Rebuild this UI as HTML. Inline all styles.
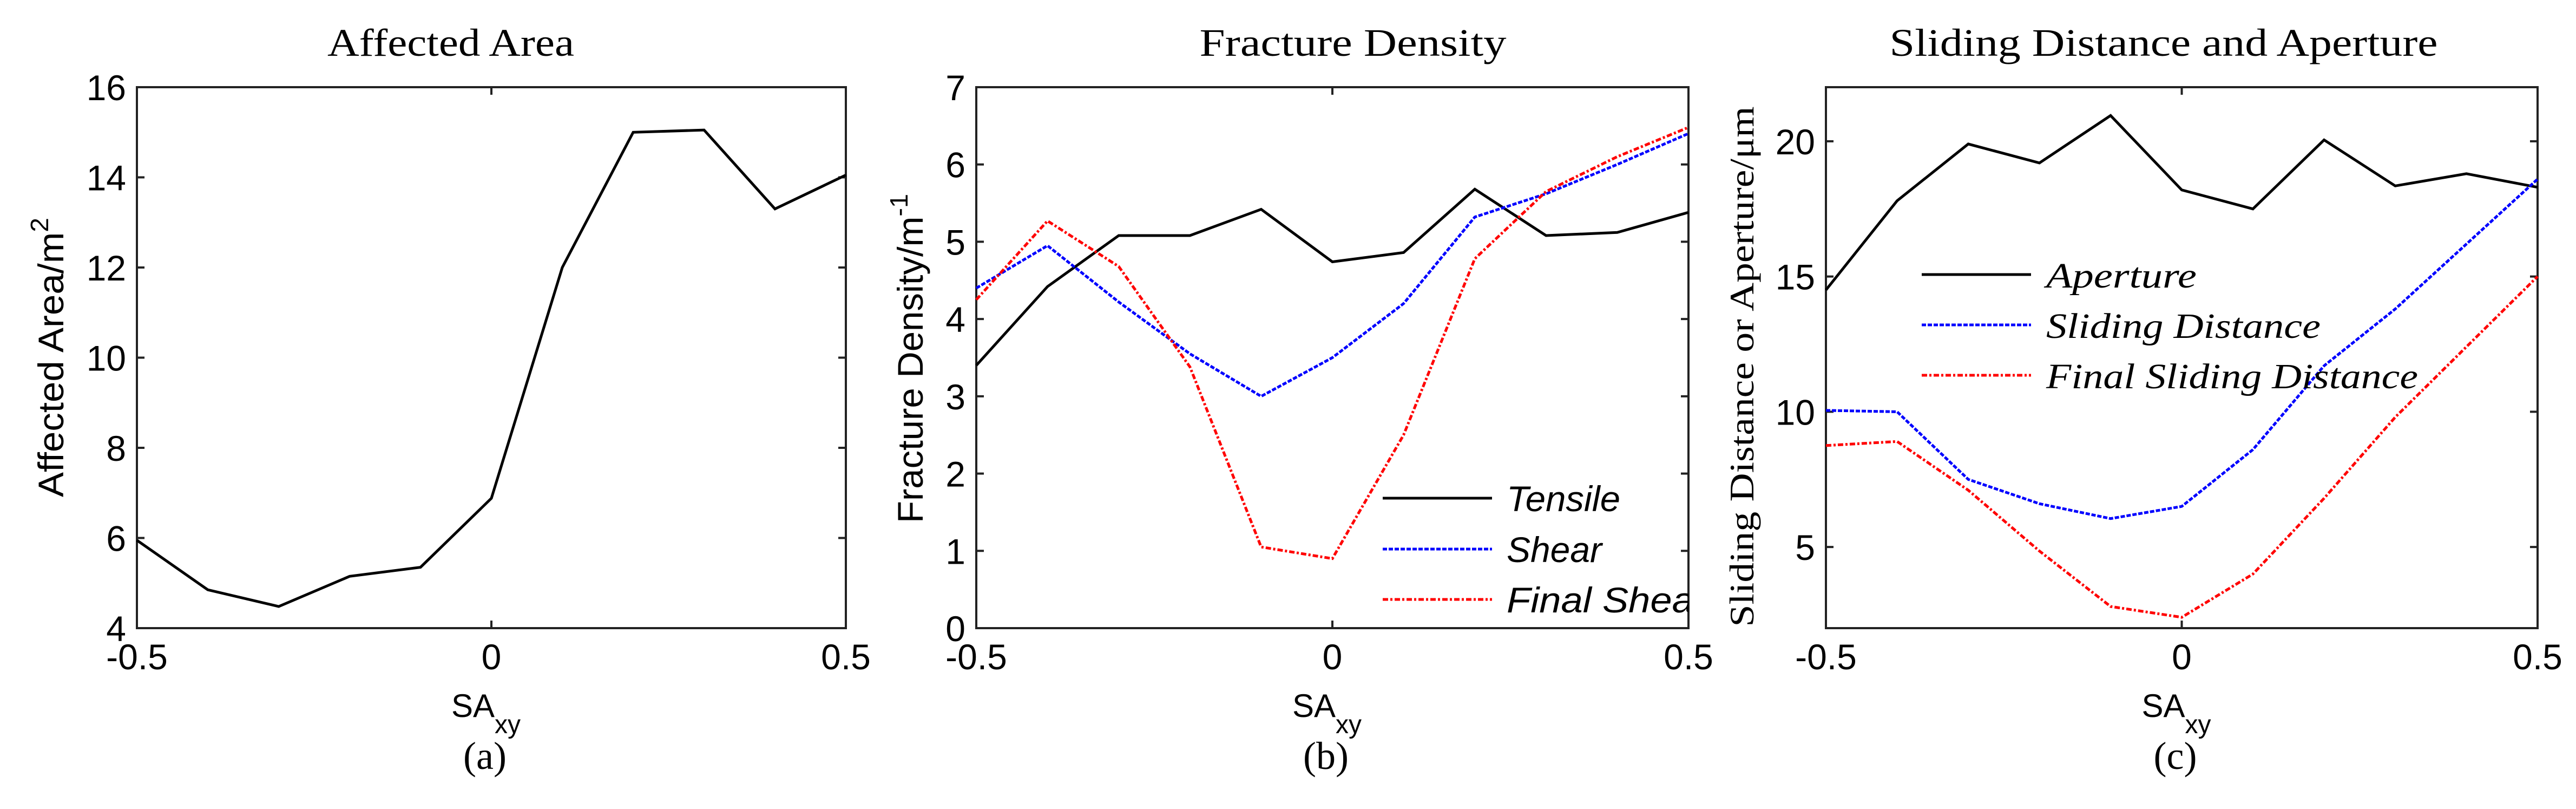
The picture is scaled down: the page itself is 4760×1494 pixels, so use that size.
<!DOCTYPE html>
<html><head><meta charset="utf-8"><style>
html,body{margin:0;padding:0;background:#fff;}
svg{display:block;}
</style></head><body>
<svg id="fig" xmlns="http://www.w3.org/2000/svg" width="4760" height="1494" viewBox="0 0 4760 1494">
<defs>
<clipPath id="clipb"><rect x="1804" y="150" width="1316" height="1020"/></clipPath>
</defs>
</svg>
<script>
const xs = [-0.5,-0.4,-0.3,-0.2,-0.1,0,0.1,0.2,0.3,0.4,0.5];
const areaVals = [5.95,4.85,4.48,5.15,5.35,6.88,12.0,15.0,15.05,13.3,14.05];
const tensileVals = [3.4,4.42,5.08,5.08,5.42,4.74,4.86,5.68,5.08,5.12,5.38];
const shearVals = [4.4,4.95,4.22,3.55,3.0,3.5,4.2,5.32,5.62,6.0,6.4];
const finalShearVals = [4.25,5.27,4.68,3.38,1.05,0.9,2.5,4.78,5.65,6.1,6.48];
const apertureVals = [14.5,17.8,19.9,19.2,20.95,18.2,17.5,20.05,18.35,18.8,18.3];
const slidingVals = [10.05,10.0,7.5,6.6,6.05,6.5,8.6,11.7,13.8,16.2,18.6];
const finalSlidingVals = [8.75,8.9,7.1,4.85,2.8,2.4,4.0,6.8,9.8,12.4,15.0];
const xTicks = [-0.5,0,0.5];
const xTickLabels = ["-0.5","0","0.5"];
const aYTicks = [4,6,8,10,12,14,16];
const bYTicks = [0,1,2,3,4,5,6,7];
const cYTicks = [5,10,15,20];

const NS="http://www.w3.org/2000/svg";
const svg=document.getElementById('fig');
function el(tag,attrs,parent){const e=document.createElementNS(NS,tag);for(const k in attrs)e.setAttribute(k,attrs[k]);(parent||svg).appendChild(e);return e;}

const TOP=161,BOT=1160;
const panels=[
 {id:'a',L:253,R:1563,ymin:4,ymax:16,yt:aYTicks,title:'Affected Area',tx:833,tw:456},
 {id:'b',L:1804,R:3120,ymin:0,ymax:7,yt:bYTicks,title:'Fracture Density',tx:2500,tw:567},
 {id:'c',L:3374,R:4689,ymin:2,ymax:22,yt:cYTicks,title:'Sliding Distance and Aperture',tx:3998,tw:1013}
];
function mkX(p){return v=>p.L+(v+0.5)*(p.R-p.L);}
function mkY(p){return v=>BOT-(v-p.ymin)/(p.ymax-p.ymin)*(BOT-TOP);}

panels.forEach(p=>{
 const g=el('g',{});
 
 
 const X=mkX(p),Y=mkY(p);
 const t=el('text',{x:p.tx,y:103,'text-anchor':'middle','font-family':'"Liberation Serif",serif','font-size':72,textLength:p.tw,lengthAdjust:'spacingAndGlyphs'},g);
 t.textContent=p.title;
 
 
 const box=el('rect',{x:p.L,y:TOP,width:p.R-p.L,height:BOT-TOP,fill:'none',stroke:'#222','stroke-width':4},g);
 
 
 xTicks.forEach((v,i)=>{
  const x=X(v);
  el('line',{x1:x,y1:BOT,x2:x,y2:BOT-14,stroke:'#222','stroke-width':4},g);
  el('line',{x1:x,y1:TOP,x2:x,y2:TOP+14,stroke:'#222','stroke-width':4},g);
  const l=el('text',{x:x,y:1236,'text-anchor':'middle','font-family':'"Liberation Sans",sans-serif','font-size':66},g);
  l.textContent=xTickLabels[i];
  
  
 });
 p.yt.forEach(v=>{
  const y=Y(v);
  el('line',{x1:p.L,y1:y,x2:p.L+14,y2:y,stroke:'#222','stroke-width':4},g);
  el('line',{x1:p.R,y1:y,x2:p.R-14,y2:y,stroke:'#222','stroke-width':4},g);
  const l=el('text',{x:p.L-20,y:y+24,'text-anchor':'end','font-family':'"Liberation Sans",sans-serif','font-size':66},g);
  l.textContent=String(v);
  
  
 });
 const cx=(p.L+p.R)/2;
 const xl=el('text',{x:cx-10,y:1324,'text-anchor':'middle','font-family':'"Liberation Sans",sans-serif','font-size':60},g);
 xl.innerHTML='SA<tspan font-size="48" dy="30">xy</tspan>';
 
 
 const cap=el('text',{x:cx-12,y:1420,'text-anchor':'middle','font-family':'"Liberation Serif",serif','font-size':72},g);
 cap.textContent='('+p.id+')';
 
 
 p.g=g;p.X=X;p.Y=Y;
});

function series(p,vals,color,dash,name,width,clip){
 const pts=xs.map((x,i)=>p.X(x).toFixed(1)+','+p.Y(vals[i]).toFixed(1)).join(' ');
 const a={points:pts,fill:'none',stroke:color,'stroke-width':width||5,'stroke-linejoin':'miter'};
 if(dash)a['stroke-dasharray']=dash;
 const pl=el('polyline',a,p.g);
 
 
}
const [pa,pb,pc]=panels;
series(pa,areaVals,'#000',null,'affected-area-line');
series(pb,tensileVals,'#000',null,'tensile-line');
series(pb,shearVals,'#0000ff','8 3','shear-line');
series(pb,finalShearVals,'#ff0000','10 4 4 4','final-shear-line');
series(pc,apertureVals,'#000',null,'aperture-line');
series(pc,slidingVals,'#0000ff','8 3','sliding-distance-line');
series(pc,finalSlidingVals,'#ff0000','10 4 4 4','final-sliding-distance-line');

// y-axis titles
function ylab(x,y,html,font,size,len,name){
 const t=el('text',{x:0,y:0,transform:`translate(${x},${y}) rotate(-90)`,'text-anchor':'middle','font-family':font,'font-size':size,textLength:len,lengthAdjust:'spacingAndGlyphs'});
 t.innerHTML=html;
 
 
}
ylab(117,660,'Affected Area/m<tspan dy="-28" font-size="46">2</tspan>','"Liberation Sans",sans-serif',66,516,'y-axis-title-a');
ylab(1705,662,'Fracture Density/m<tspan dy="-28" font-size="46">-1</tspan>','"Liberation Sans",sans-serif',66,608,'y-axis-title-b');
ylab(3240,677,'Sliding Distance or Aperture/μm','"Liberation Serif",serif',64,961,'y-axis-title-c');

// legends
function legend(g,x1,x2,tx,y,color,dash,label,font,size,len,name,clip){
 const lg=el('g',{},g);
 
 
 if(clip)lg.setAttribute('clip-path','url(#clipb)');
 const a={x1:x1,y1:y,x2:x2,y2:y,stroke:color,'stroke-width':5};
 if(dash)a['stroke-dasharray']=dash;
 el('line',a,lg);
 const t=el('text',{x:tx,y:y+24,'font-family':font,'font-size':size,'font-style':'italic',textLength:len,lengthAdjust:'spacingAndGlyphs'},lg);
 t.textContent=label;
}
const sans='"Liberation Sans",sans-serif', serif='"Liberation Serif",serif';
legend(pb.g,2555,2757,2784,920,'#000',null,'Tensile',sans,66,210,'legend-entry-tensile');
legend(pb.g,2555,2757,2784,1014,'#0000ff','8 3','Shear',sans,66,176,'legend-entry-shear');
legend(pb.g,2555,2757,2784,1107,'#ff0000','10 4 4 4','Final Shear',sans,66,370,'legend-entry-final-shear',true);
legend(pc.g,3551,3753,3781,507,'#000',null,'Aperture',serif,66,278,'legend-entry-aperture');
legend(pc.g,3551,3753,3781,600,'#0000ff','8 3','Sliding Distance',serif,66,507,'legend-entry-sliding-distance');
legend(pc.g,3551,3753,3781,693,'#ff0000','10 4 4 4','Final Sliding Distance',serif,66,687,'legend-entry-final-sliding-distance');
</script>
</body></html>
